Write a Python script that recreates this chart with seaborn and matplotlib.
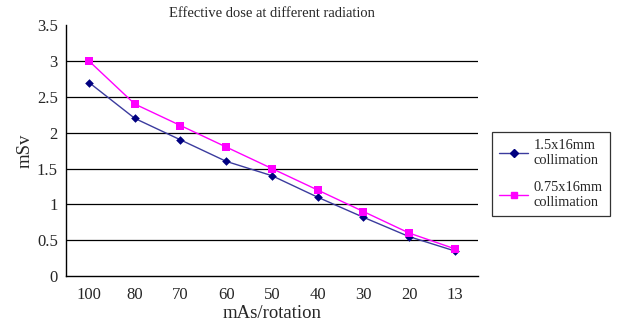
import matplotlib
matplotlib.use("Agg")
import matplotlib.pyplot as plt
import seaborn as sns
import pandas as pd
import numpy as np
from matplotlib.lines import Line2D

categories = ["100", "80", "70", "60", "50", "40", "30", "20", "13"]
series_names = ["1.5x16mm\ncollimation", "0.75x16mm\ncollimation"]
dose_15 = [2.7, 2.2, 1.9, 1.6, 1.4, 1.1, 0.82, 0.55, 0.35]
dose_075 = [3.0, 2.4, 2.1, 1.8, 1.5, 1.2, 0.9, 0.6, 0.38]

df = pd.DataFrame({
    "mAs": categories * 2,
    "dose": dose_15 + dose_075,
    "series": [series_names[0]] * 9 + [series_names[1]] * 9,
})

sns.set_style("white")
plt.rcParams["font.family"] = ["Liberation Serif", "DejaVu Serif"]

fig = plt.figure(figsize=(6.18, 3.31), dpi=100)
ax = fig.add_axes([0.107, 0.166, 0.666, 0.758])

colors = {series_names[0]: "#000080", series_names[1]: "#ff00ff"}
line_colors = {series_names[0]: "#3b3b9e", series_names[1]: "#ff00ff"}
markers = {series_names[0]: "D", series_names[1]: "s"}
msize = {series_names[0]: 4, series_names[1]: 5}

for name in series_names:
    sub = df[df["series"] == name]
    sns.lineplot(data=sub, x="mAs", y="dose", ax=ax, color=line_colors[name],
                 linewidth=1.0, sort=False, legend=False)
    sns.scatterplot(data=sub, x="mAs", y="dose", ax=ax, color=colors[name],
                    marker=markers[name], s=msize[name] ** 2 * 1.2,
                    edgecolor=colors[name], linewidth=0, legend=False, zorder=5)

ax.set_ylim(0, 3.5)
ax.set_xlim(-0.5, len(categories) - 0.5)
ax.set_yticks(np.arange(0, 3.51, 0.5))
ax.set_yticklabels(["0", "0.5", "1", "1.5", "2", "2.5", "3", "3.5"])
for yv in np.arange(0.5, 3.01, 0.5):
    ax.axhline(yv, color="black", linewidth=0.9, zorder=0)

ax.set_xticks(range(len(categories)))
ax.set_xticklabels(categories)
ax.set_xticks(np.arange(-0.5, len(categories), 1.0), minor=True)
ax.tick_params(axis="x", which="major", length=0, labelsize=12, pad=8)
ax.tick_params(axis="x", which="minor", length=4, width=0.9, direction="out", color="black")
ax.tick_params(axis="y", which="major", length=4, width=0.9, direction="out", labelsize=12, color="black", pad=2)

for s in ["top", "right"]:
    ax.spines[s].set_visible(False)
for s in ["left", "bottom"]:
    ax.spines[s].set_color("black")
    ax.spines[s].set_linewidth(1.0)

ax.set_xlabel("mAs/rotation", fontsize=13.5, labelpad=1)
ax.set_ylabel("mSv", fontsize=13.5, labelpad=2)
ax.set_title("Effective dose at different radiation", fontsize=10.5, pad=6)

handles = [Line2D([0], [0], color=line_colors[n], marker=markers[n],
                  markerfacecolor=colors[n], markeredgecolor=colors[n],
                  markersize=msize[n], linewidth=1.0) for n in series_names]
leg = fig.legend(handles, series_names, loc="upper left",
                 bbox_to_anchor=(0.796, 0.601), borderaxespad=0,
                 fontsize=10.4, frameon=True,
                 fancybox=False, edgecolor="black", handlelength=2.0,
                 handletextpad=0.4, labelspacing=1.0, borderpad=0.5)
leg.get_frame().set_linewidth(0.9)
for t in leg.get_texts():
    t.set_linespacing(1.15)

fig.savefig("out.png", dpi=100)
